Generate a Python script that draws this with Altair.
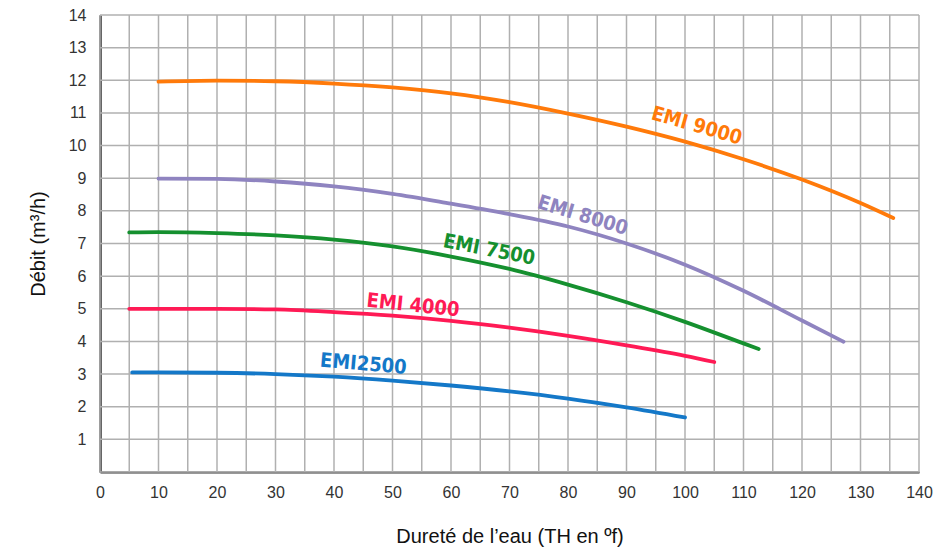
import altair as alt
import pandas as pd

# ---- data ----
series_names = ["EMI 9000", "EMI 8000", "EMI 7500", "EMI 4000", "EMI2500"]
series_colors = ["#ff7a0a", "#8f84c0", "#15902f", "#ff1a55", "#1478c8"]

x_9000 = [10, 20, 30, 40, 50, 60, 70, 80, 90, 100, 110, 120, 130, 135.6]
y_9000 = [11.96, 11.99, 11.97, 11.9, 11.78, 11.6, 11.33, 10.98, 10.58, 10.12, 9.58, 8.96, 8.24, 7.78]

x_8000 = [10, 20, 30, 40, 50, 60, 70, 80, 90, 100, 110, 120, 127.1]
y_8000 = [8.99, 8.98, 8.9, 8.75, 8.52, 8.22, 7.9, 7.52, 7.0, 6.35, 5.55, 4.64, 3.99]

x_7500 = [5, 10, 20, 30, 40, 50, 60, 70, 80, 90, 100, 110, 112.6]
y_7500 = [7.34, 7.35, 7.32, 7.25, 7.12, 6.91, 6.6, 6.22, 5.74, 5.2, 4.6, 3.94, 3.77]

x_4000 = [5, 10, 20, 30, 40, 50, 60, 70, 80, 90, 100, 105]
y_4000 = [5.0, 5.0, 5.0, 4.98, 4.9, 4.79, 4.63, 4.42, 4.17, 3.88, 3.56, 3.37]

x_2500 = [5.5, 10, 20, 30, 40, 50, 60, 70, 80, 90, 100]
y_2500 = [3.05, 3.05, 3.04, 3.0, 2.92, 2.8, 2.65, 2.47, 2.25, 1.98, 1.67]

# label positions (data coords) and angles
label_x = [102, 82.5, 66.5, 53.5, 45]
label_y = [10.6, 7.85, 6.8, 5.1, 3.3]
label_angle = [16, 17, 11, 6, 5]

x_grid = list(range(0, 145, 5))
x_labels = list(range(0, 145, 10))
y_grid = list(range(0, 15))
y_labels = list(range(1, 15))

# ---- build tables ----
xs = [x_9000, x_8000, x_7500, x_4000, x_2500]
ys = [y_9000, y_8000, y_7500, y_4000, y_2500]
rows = []
for name, xv, yv in zip(series_names, xs, ys):
    for i, (a, b) in enumerate(zip(xv, yv)):
        rows.append({"series": name, "x": a, "y": b, "order": i})
df = pd.DataFrame(rows)

lab = pd.DataFrame({"series": series_names, "x": label_x, "y": label_y, "angle": label_angle})

color_scale = alt.Scale(domain=series_names, range=series_colors)

x_axis = alt.Axis(values=x_labels, title="Dureté de l’eau (TH en ºf)",
                  grid=False, ticks=False, labelPadding=12, titlePadding=26,
                  domainColor="#333333", domainWidth=2,
                  labelFontSize=16, titleFontSize=20,
                  labelColor="#333333", titleColor="#111111",
                  labelFont="Liberation Sans", titleFont="Liberation Sans",
                  titleFontWeight="normal", labelFlush=False, labelOverlap=False)
y_axis = alt.Axis(values=y_labels, title="Débit (m³/h)",
                  grid=False, ticks=False, labelPadding=14, titlePadding=20,
                  domainColor="#333333", domainWidth=2.5,
                  labelFontSize=16, titleFontSize=20,
                  labelColor="#333333", titleColor="#111111",
                  labelFont="Liberation Sans", titleFont="Liberation Sans",
                  titleFontWeight="normal", labelFlush=False, labelOverlap=False)

x_scale = alt.Scale(domain=[0, 140], nice=False)
y_scale = alt.Scale(domain=[0, 14], nice=False)

X = alt.X("x:Q", scale=x_scale, axis=x_axis)
Y = alt.Y("y:Q", scale=y_scale, axis=y_axis)

vgrid = alt.Chart(pd.DataFrame({"gx": x_grid})).mark_rule(color="#b0b0b0", strokeWidth=1.5).encode(
    x=alt.X("gx:Q", scale=x_scale, axis=x_axis))
hgrid = alt.Chart(pd.DataFrame({"gy": y_grid})).mark_rule(color="#b0b0b0", strokeWidth=1.5).encode(
    y=alt.Y("gy:Q", scale=y_scale, axis=y_axis))

lines = alt.Chart(df).mark_line(interpolate="monotone", strokeWidth=3.8, strokeCap="round").encode(
    x=X, y=Y,
    color=alt.Color("series:N", scale=color_scale, legend=None),
    detail="series:N",
    order="order:Q",
)

texts = alt.Chart(lab).mark_text(
    font="'DejaVu Sans Condensed', 'Liberation Sans Narrow', 'Liberation Sans', sans-serif",
    fontWeight="bold", fontSize=20, align="center", baseline="middle").encode(
    x=X, y=Y,
    text="series:N",
    angle=alt.Angle("angle:Q", scale=None),
    color=alt.Color("series:N", scale=color_scale, legend=None),
)

chart = alt.layer(vgrid, hgrid, lines, texts).properties(
    width=819, height=457,
    autosize=alt.AutoSizeParams(type="none"),
    padding={"left": 92, "top": 7, "right": 22, "bottom": 78},
    background="white",
).configure_view(stroke=None)

chart.save("out.html", embed_options={"renderer": "svg", "actions": False})
